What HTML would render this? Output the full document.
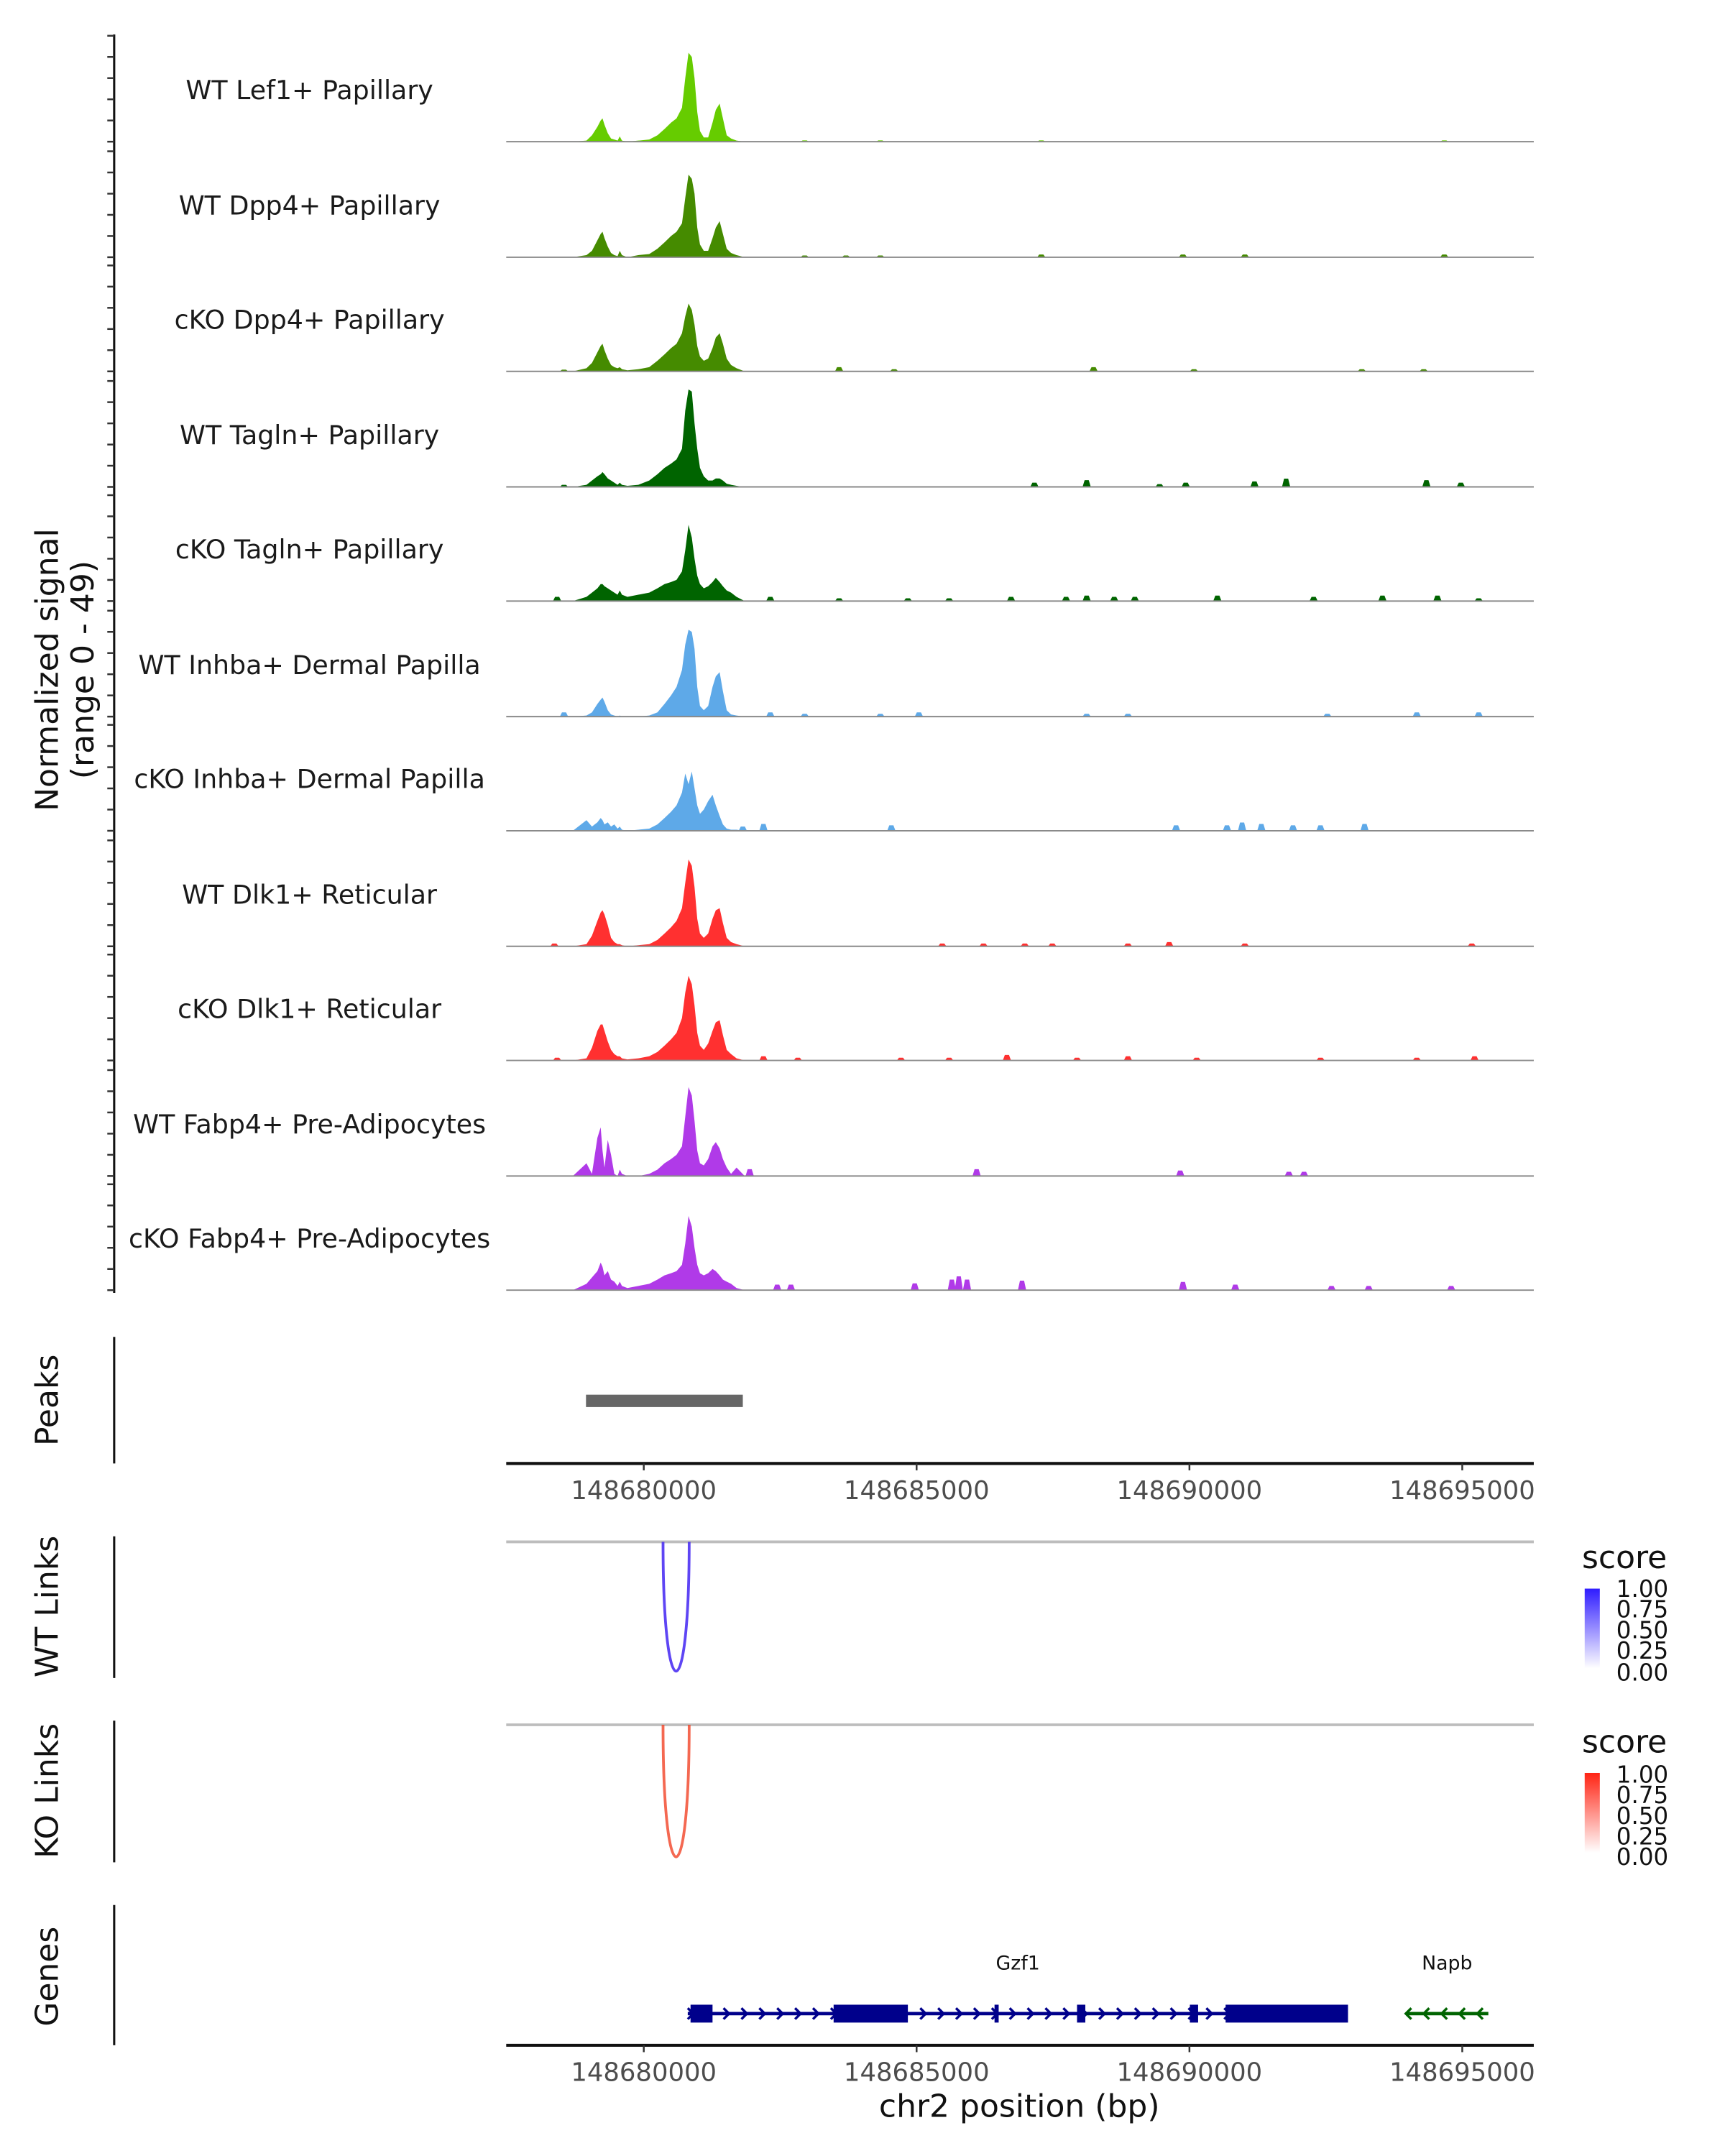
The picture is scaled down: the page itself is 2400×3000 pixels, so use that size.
<!DOCTYPE html>
<html><head><meta charset="utf-8"><style>
html,body{margin:0;padding:0;background:#fff;}
svg{display:block;font-family:"DejaVu Sans","Liberation Sans",sans-serif;}
</style></head><body>
<svg id="fig" width="2400" height="3000" viewBox="0 0 1254 1567.5" preserveAspectRatio="none" xmlns="http://www.w3.org/2000/svg">
<defs>
<linearGradient id="gBlue" x1="0" y1="1" x2="0" y2="0"><stop offset="0" stop-color="#ffffff"/><stop offset="1" stop-color="#2f1cff"/></linearGradient>
<linearGradient id="gRed" x1="0" y1="1" x2="0" y2="0"><stop offset="0" stop-color="#ffffff"/><stop offset="1" stop-color="#ff2414"/></linearGradient>
</defs>
<g id="tracks"></g>
<line x1="83" y1="25" x2="83" y2="940" stroke="#111" stroke-width="1.6"/>
<g id="yticks"></g>
<text transform="translate(42,487) rotate(-90)" text-anchor="middle" font-size="23" fill="#111">Normalized signal</text>
<text transform="translate(68,487) rotate(-90)" text-anchor="middle" font-size="23" fill="#111">(range 0 - 49)</text>

<line x1="83" y1="972" x2="83" y2="1064" stroke="#111" stroke-width="1.6"/>
<text transform="translate(42,1018) rotate(-90)" text-anchor="middle" font-size="23" fill="#111">Peaks</text>
<g id="peaks"></g>
<g id="axis1"></g>

<line x1="83" y1="1117" x2="83" y2="1220" stroke="#111" stroke-width="1.6"/>
<text transform="translate(42,1168) rotate(-90)" text-anchor="middle" font-size="23" fill="#111">WT Links</text>
<line x1="368" y1="1121" x2="1115" y2="1121" stroke="#bdbdbd" stroke-width="2"/>
<g id="wtlinks"></g>
<g>
<text x="1150" y="1140" font-size="23" fill="#111">score</text>
<rect x="1152" y="1155" width="11" height="58" fill="url(#gBlue)"/>
<g font-size="17" fill="#111"><text x="1175" y="1161">1.00</text><text x="1175" y="1176">0.75</text><text x="1175" y="1191">0.50</text><text x="1175" y="1206">0.25</text><text x="1175" y="1222">0.00</text></g>
</g>

<line x1="83" y1="1251" x2="83" y2="1354" stroke="#111" stroke-width="1.6"/>
<text transform="translate(42,1302) rotate(-90)" text-anchor="middle" font-size="23" fill="#111">KO Links</text>
<line x1="368" y1="1254" x2="1115" y2="1254" stroke="#bdbdbd" stroke-width="2"/>
<g id="kolinks"></g>
<g>
<text x="1150" y="1274" font-size="23" fill="#111">score</text>
<rect x="1152" y="1289" width="11" height="58" fill="url(#gRed)"/>
<g font-size="17" fill="#111"><text x="1175" y="1296">1.00</text><text x="1175" y="1311">0.75</text><text x="1175" y="1326">0.50</text><text x="1175" y="1341">0.25</text><text x="1175" y="1356">0.00</text></g>
</g>

<line x1="83" y1="1385" x2="83" y2="1487" stroke="#111" stroke-width="1.6"/>
<text transform="translate(42,1437) rotate(-90)" text-anchor="middle" font-size="23" fill="#111">Genes</text>
<g id="genes"></g>
<g id="axis2"></g>
<text x="741" y="1539" text-anchor="middle" font-size="23" fill="#111">chr2 position (bp)</text>
</svg>
<script>
const NS="http://www.w3.org/2000/svg";
const BASE=148680000;
const trackNames=["WT Lef1+ Papillary","WT Dpp4+ Papillary","cKO Dpp4+ Papillary","WT Tagln+ Papillary","cKO Tagln+ Papillary","WT Inhba+ Dermal Papilla","cKO Inhba+ Dermal Papilla","WT Dlk1+ Reticular","cKO Dlk1+ Reticular","WT Fabp4+ Pre-Adipocytes","cKO Fabp4+ Pre-Adipocytes"];
const trackColors=["#66cc00","#458b00","#458b00","#006400","#006400","#5ea9e8","#5ea9e8","#ff3030","#ff3030","#b03ae8","#b03ae8"];
const binOffsets=[-1300,-1050,-950,-850,-790,-756,-720,-660,-600,-540,-480,-440,-400,-300,-100,100,250,380,500,600,700,760,820,880,930,980,1030,1100,1180,1260,1320,1390,1450,1520,1600,1700,1850];
const sig1=[0,0.5,3,7,10,11,8,4,1.5,1,0.5,2.5,0.5,0,0.5,1,3,6,9,11,16,30,42,40,30,14,5,2,2,9,15,18,11,3,1.5,0.5,0];
const sig2=[0,1,3,8,11,12,9,5,2,1,0.5,3,1,0,1,1.5,4,7,10,12,16,28,39,37,30,14,6,3,3,9,14,17,11,4,2,1,0];
const sig3=[0,1.5,4,9,12,13,10,6,3,2,1.5,2,1,0.5,1,2,5,8,11,13,18,26,32,29,22,12,7,5,6,11,16,18,13,6,3,1.5,0];
const sig4=[0,1,3,5,6,7,6,4,3,2,1,2,1,0.5,1,3,6,9,11,13,18,36,46,45,30,18,9,5,3,3,4,4,3,1.5,1,0.5,0];
const sig5=[0,2,4,6,8,8,7,6,5,4,3,5,3,2,3,4,6,8,9,10,14,24,36,30,20,12,8,6,7,9,11,9,7,5,4,2,0];
const sig6=[0,0.5,2,6,8,9,7,3,1,0.5,0,0.5,0,0,0,0.5,2,6,10,14,22,34,41,40,32,14,5,3,5,14,19,21,12,3,1,0.5,0];
const sig7=[0,5,2,4,6,5,3,4,2,3,1,2,0.5,0,0.5,1,3,6,9,12,18,27,22,28,20,12,8,10,14,17,12,7,3,1,0.5,0.5,0];
const sig8=[0,1,5,12,16,17,15,10,4,2,1,1,0.5,0,0.5,1,3,6,9,12,18,30,41,38,28,13,6,4,6,13,17,18,11,4,2,1,0];
const sig9=[0,1,6,14,17,17,14,9,5,3,2,2,1,0.5,1,2,4,7,10,13,20,32,40,36,26,13,7,5,8,14,18,19,12,5,3,1,0];
const sig10=[0,6,1,18,23,12,4,17,10,1,0,3,1,0,0,1,3,6,8,10,14,28,42,38,26,12,6,5,8,14,16,13,8,4,1,4,0];
const sig11=[0,3,6,9,13,11,7,9,5,4,2,4,2,1,2,3,5,7,8,9,12,22,35,30,20,12,8,7,8,10,9,7,5,4,3,1,0];
const signals=[sig1,sig2,sig3,sig4,sig5,sig6,sig7,sig8,sig9,sig10,sig11];
const bumpPos1=[2949,4336,7285,14671];
const bumpVal1=[0.6,0.6,0.6,0.6];
const bumpPos2=[2949,3706,4336,7285,9881,11016,14671];
const bumpVal2=[0.8,0.8,0.8,1.3,1.3,1.3,1.3];
const bumpPos3=[-1462,3580,4588,8243,10083,13159,14293];
const bumpVal3=[0.8,2,1,2,1,1,1];
const bumpPos4=[-1462,7159,8117,9453,9932,11192,11772,14343,14974];
const bumpVal4=[1,2,3.2,1.3,2,2.6,3.9,3.2,2];
const bumpPos5=[-1588,2319,3580,4840,5596,6731,7739,8117,8621,8999,10512,12276,13537,14545,15301];
const bumpVal5=[2,2,1.3,1.3,1.3,2,2,2.6,2,2,2.6,2,2.6,2.6,1.3];
const bumpPos6=[-1462,2319,2949,4336,5042,8117,8873,12528,14167,15301];
const bumpVal6=[2,2,1.3,1.3,2,1.3,1.3,1.3,2,2];
const bumpPos7=[1815,2193,4537,9755,10688,10965,11318,11898,12402,13209];
const bumpVal7=[2,3.2,2.6,2.6,2.6,3.9,3.2,2.6,2.6,3.2];
const bumpPos8=[-1638,5470,6226,6983,7487,8873,9629,11016,15175];
const bumpVal8=[1.3,1.3,1.3,1.3,1.3,1.3,2,1.3,1.3];
const bumpPos9=[-1588,2193,2823,4714,5596,6655,7940,8873,10134,12402,14167,15225];
const bumpVal9=[1.3,2,1.3,1.3,1.3,2.6,1.3,2,1.3,1.3,1.3,2];
const bumpPos10=[1941,6100,9831,11822,12100];
const bumpVal10=[3.2,3.2,2.6,2,2];
const bumpPos11=[2445,2697,4966,5646,5773,5924,6932,9881,10840,12604,13285,14797];
const bumpVal11=[2.6,2.6,3.2,5,6.5,5,4.5,3.9,2.6,2,2,2];
const bumpPositions=[bumpPos1,bumpPos2,bumpPos3,bumpPos4,bumpPos5,bumpPos6,bumpPos7,bumpPos8,bumpPos9,bumpPos10,bumpPos11];
const bumpValues=[bumpVal1,bumpVal2,bumpVal3,bumpVal4,bumpVal5,bumpVal6,bumpVal7,bumpVal8,bumpVal9,bumpVal10,bumpVal11];
const xTicks=[148680000,148685000,148690000,148695000];
const peakStarts=[148678941];
const peakEnds=[148681815];
const wtLinkStarts=[148680353];
const wtLinkEnds=[148680832];
const wtLinkScores=[0.8];
const koLinkStarts=[148680353];
const koLinkEnds=[148680832];
const koLinkScores=[0.75];
const geneNames=["Gzf1","Napb"];
const geneStarts=[148680806,148693965];
const geneEnds=[148692906,148695478];
const geneStrands=["+","-"];
const geneColors=["#00008b","#006400"];
const exonGene=[0,0,0,0,0,0];
const exonStarts=[148680857,148683479,148686428,148687940,148690008,148690663];
const exonEnds=[148681260,148684840,148686504,148688092,148690159,148692906];

const X0=368,X1=1115;
function xs(p){return 468+(p-148680000)*(595/15000);}
function xo(off){return xs(BASE+off);}
const PXV=1.54;
const baselines=[103,187,270,354,437,521,604,688,771,855,938];
function mk(tag,attrs,parent){const e=document.createElementNS(NS,tag);for(const k in attrs)e.setAttribute(k,attrs[k]);parent.appendChild(e);return e;}

const tracks=document.getElementById('tracks');
const yt=document.getElementById('yticks');
signals.forEach((vals,i)=>{
  const b=baselines[i];
  const g=mk('g',{},tracks);
  
  
  let pts=[];
  pts.push(xo(binOffsets[0])+','+b);
  binOffsets.forEach((o,j)=>{pts.push(xo(o).toFixed(2)+','+(b-Math.min(vals[j],49)*PXV).toFixed(2));});
  pts.push(xo(binOffsets[binOffsets.length-1])+','+b);
  const area=mk('polygon',{points:pts.join(' '),fill:trackColors[i]},g);
  
  
  bumpPositions[i].forEach((p,j)=>{
    const x=xo(p),h=bumpValues[i][j]*PXV;
    const bp=mk('polygon',{points:(x-3)+','+b+' '+(x-1.5)+','+(b-h)+' '+(x+1.5)+','+(b-h)+' '+(x+3)+','+b,fill:trackColors[i]},g);
    
    
  });
  const bl=mk('line',{x1:X0,y1:b,x2:X1,y2:b,stroke:'#8a8a8a','stroke-width':1},g);
  
  
  const t=mk('text',{x:225,y:b-31,'text-anchor':'middle','font-size':'19',fill:'#1a1a1a'},g);
  
  
  t.textContent=trackNames[i];
  for(let k=0;k<=5;k++){
    const y=b-k*10*PXV;
    const tk=mk('line',{x1:78,y1:y,x2:83,y2:y,stroke:'#333','stroke-width':1.3},yt);
    
    
  }
});

const pk=document.getElementById('peaks');
peakStarts.forEach((s,i)=>{
  const r=mk('rect',{x:xs(s),y:1014,width:xs(peakEnds[i])-xs(s),height:9,fill:'#666666'},pk);
  
  
});

function axis(id,y){
  const g=document.getElementById(id);
  const l=mk('line',{x1:X0,y1:y,x2:X1,y2:y,stroke:'#111','stroke-width':2.2},g);
  
  
  xTicks.forEach(v=>{
    const x=xs(v);
    const tk=mk('line',{x1:x,y1:y,x2:x,y2:y+5,stroke:'#333','stroke-width':1.3},g);
    
    
    const t=mk('text',{x:x,y:y+26,'text-anchor':'middle','font-size':'18.5',fill:'#4d4d4d'},g);
    
    
    t.textContent=String(v);
  });
}
axis('axis1',1064);axis('axis2',1487);

function links(id,starts,ends,scores,top,bottom,color){
  const g=document.getElementById(id);
  starts.forEach((s,i)=>{
    const x1=xs(s),x2=xs(ends[i]);
    const cy=top+(bottom-top)*4/3;
    const p=mk('path',{d:`M${x1},${top} C${x1},${cy} ${x2},${cy} ${x2},${top}`,fill:'none',stroke:color,'stroke-width':2,'stroke-opacity':0.3+0.7*scores[i]},g);
    
    
  });
}
links('wtlinks',wtLinkStarts,wtLinkEnds,wtLinkScores,1121,1215,'#4426f2');
links('kolinks',koLinkStarts,koLinkEnds,koLinkScores,1254,1350,'#f2482c');

const gg=document.getElementById('genes');
const GY=1464;
geneNames.forEach((n,i)=>{
  const g=mk('g',{},gg);
  
  
  const x1=xs(geneStarts[i]),x2=xs(geneEnds[i]),c=geneColors[i];
  const l=mk('line',{x1:x1,y1:GY,x2:x2,y2:GY,stroke:c,'stroke-width':2.5},g);
  
  
  for(let x=x1+2;x<=x2-2;x+=13){
    const d=geneStrands[i]==='+'?`M${x-2},${GY-4} L${x+2},${GY} L${x-2},${GY+4}`:`M${x+2},${GY-4} L${x-2},${GY} L${x+2},${GY+4}`;
    const a=mk('path',{d:d,fill:'none',stroke:c,'stroke-width':1.8},g);
    
    
  }
  const t=mk('text',{x:(x1+x2)/2,y:1432,'text-anchor':'middle','font-size':'14',fill:'#111'},g);
  
  
  t.textContent=n;
});
exonStarts.forEach((s,i)=>{
  const r=mk('rect',{x:xs(s),y:GY-6.5,width:Math.max(2.5,xs(exonEnds[i])-xs(s)),height:13,fill:geneColors[exonGene[i]]},gg);
  
  
});
</script>
</body></html>
